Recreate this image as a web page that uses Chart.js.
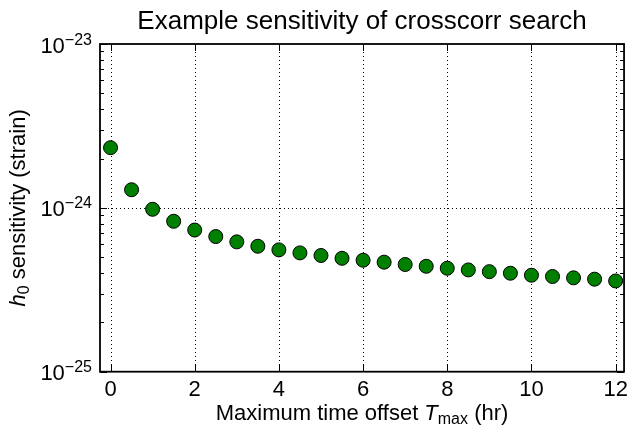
<!DOCTYPE html>
<html>
<head>
<meta charset="utf-8">
<script src="https://cdn.jsdelivr.net/npm/chart.js@4/dist/chart.umd.min.js"></script>
<style>
html,body{margin:0;padding:0;background:#fff;}
canvas{display:block;}
</style>
</head>
<body>
<canvas id="c" width="633" height="426"></canvas>
<script>
// ---- data ----
const tmaxHours = [0, 0.5, 1, 1.5, 2, 2.5, 3, 3.5, 4, 4.5, 5, 5.5, 6, 6.5, 7, 7.5, 8, 8.5, 9, 9.5, 10, 10.5, 11, 11.5, 12];
const h0Sensitivity = [2.33e-24, 1.29e-24, 0.98e-24, 0.828e-24, 0.732e-24, 0.668e-24, 0.620e-24, 0.583e-24, 0.554e-24, 0.531e-24, 0.512e-24, 0.492e-24, 0.479e-24, 0.466e-24, 0.451e-24, 0.440e-24, 0.428e-24, 0.418e-24, 0.408e-24, 0.399e-24, 0.388e-24, 0.381e-24, 0.374e-24, 0.367e-24, 0.358e-24];
const xTickValues = [0, 2, 4, 6, 8, 10, 12];
const yMajorExponents = [-25, -24, -23];
const yMinorMultipliers = [2, 3, 4, 5, 6, 7, 8, 9];
const titleText = 'Example sensitivity of crosscorr search';

const FONT = '"Liberation Sans", Arial, Helvetica, sans-serif';

const yTickValues = [];
yMajorExponents.forEach(e => yTickValues.push(Math.pow(10, e)));
yMajorExponents.slice(0, -1).forEach(e => yMinorMultipliers.forEach(m => yTickValues.push(m * Math.pow(10, e))));

function drawRich(ctx, parts, cx, baseY) {
  let total = 0;
  parts.forEach(p => { ctx.font = (p.style || '') + ' ' + p.size + 'px ' + FONT; p.w = ctx.measureText(p.text).width; total += p.w; });
  let x = cx - total / 2;
  ctx.textAlign = 'left';
  ctx.textBaseline = 'alphabetic';
  parts.forEach(p => {
    ctx.font = (p.style || '') + ' ' + p.size + 'px ' + FONT;
    ctx.fillText(p.text, x, baseY + (p.dy || 0));
    x += p.w;
  });
}

const decor = {
  id: 'decor',
  beforeDatasetsDraw(chart) {
    const ctx = chart.ctx, a = chart.chartArea;
    const xs = chart.scales.x, ys = chart.scales.y;
    ctx.save();
    ctx.strokeStyle = '#000';
    ctx.lineWidth = 1;
    ctx.setLineDash([1, 3]);
    xTickValues.forEach(v => {
      const px = Math.round(xs.getPixelForValue(v)) + 0.5;
      ctx.beginPath(); ctx.moveTo(px, a.top); ctx.lineTo(px, a.bottom); ctx.stroke();
    });
    yMajorExponents.forEach(e => {
      const py = Math.round(ys.getPixelForValue(Math.pow(10, e))) + 0.5;
      if (py > a.top + 2 && py < a.bottom - 2) {
        ctx.beginPath(); ctx.moveTo(a.left, py); ctx.lineTo(a.right, py); ctx.stroke();
      }
    });
    ctx.restore();
  },
  afterDraw(chart) {
    const ctx = chart.ctx, a = chart.chartArea;
    const xs = chart.scales.x, ys = chart.scales.y;
    ctx.save();
    ctx.strokeStyle = '#000';
    ctx.fillStyle = '#000';
    ctx.setLineDash([]);
    ctx.lineWidth = 1.8;
    ctx.strokeRect(a.left, a.top, a.right - a.left, a.bottom - a.top);
    ctx.lineWidth = 1;
    xTickValues.forEach(v => {
      const px = Math.round(xs.getPixelForValue(v)) + 0.5;
      ctx.beginPath();
      ctx.moveTo(px, a.bottom); ctx.lineTo(px, a.bottom - 7);
      ctx.moveTo(px, a.top); ctx.lineTo(px, a.top + 7);
      ctx.stroke();
    });
    yTickValues.forEach(v => {
      const py = Math.round(ys.getPixelForValue(v)) + 0.5;
      const major = yMajorExponents.some(e => Math.abs(Math.pow(10, e) - v) < 1e-30);
      const len = major ? 7 : 4;
      ctx.beginPath();
      ctx.moveTo(a.left, py); ctx.lineTo(a.left + len, py);
      ctx.moveTo(a.right, py); ctx.lineTo(a.right - len, py);
      ctx.stroke();
    });
    yMajorExponents.forEach(e => {
      const py = ys.getPixelForValue(Math.pow(10, e));
      const sup = '\u2212' + String(Math.abs(e));
      ctx.font = '16px ' + FONT;
      const wSup = ctx.measureText(sup).width;
      ctx.font = '22px ' + FONT;
      const wBase = ctx.measureText('10').width;
      const right = a.left - 8;
      ctx.textAlign = 'left';
      ctx.textBaseline = 'alphabetic';
      ctx.fillText('10', right - wSup - wBase, py + 8.5);
      ctx.font = '16px ' + FONT;
      ctx.fillText(sup, right - wSup, py + 0.5);
    });
    const cx = (a.left + a.right) / 2;
    drawRich(ctx, [{text: titleText, size: 26}], cx, 29);
    drawRich(ctx, [
      {text: 'Maximum time offset ', size: 22},
      {text: 'T', size: 22, style: 'italic'},
      {text: 'max', size: 16, dy: 4},
      {text: ' (hr)', size: 22}
    ], cx, 420);
    ctx.translate(25, (a.top + a.bottom) / 2);
    ctx.rotate(-Math.PI / 2);
    drawRich(ctx, [
      {text: 'h', size: 22, style: 'italic'},
      {text: '0', size: 16, dy: 4},
      {text: ' sensitivity (strain)', size: 22}
    ], 0, 0);
    ctx.restore();
  }
};

new Chart(document.getElementById('c'), {
  type: 'scatter',
  data: {
    datasets: [{
      data: tmaxHours.map((x, i) => ({x: x, y: h0Sensitivity[i]})),
      backgroundColor: '#007f00',
      borderColor: '#000',
      borderWidth: 1,
      pointRadius: 7,
      pointHoverRadius: 7
    }]
  },
  options: {
    responsive: false,
    animation: false,
    devicePixelRatio: 1,
    layout: {padding: {top: 44, right: 3.7, left: 0, bottom: 0}},
    plugins: {legend: {display: false}, tooltip: {enabled: false}, title: {display: false}},
    scales: {
      x: {
        type: 'linear',
        min: -0.25,
        max: 12.2,
        afterBuildTicks: s => { s.ticks = xTickValues.map(v => ({value: v})); },
        afterFit: s => { s.height = 54.3; },
        grid: {display: false, drawTicks: false},
        border: {display: false},
        ticks: {
          color: '#000',
          font: {family: FONT, size: 22},
          padding: 5,
          autoSkip: false,
          maxRotation: 0
        }
      },
      y: {
        type: 'logarithmic',
        min: 1e-25,
        max: 1e-23,
        afterBuildTicks: s => { s.ticks = yTickValues.map(v => ({value: v})); },
        afterFit: s => { s.width = 100; },
        grid: {display: false, drawTicks: false},
        border: {display: false},
        ticks: {display: false}
      }
    }
  },
  plugins: [decor]
});
</script>
</body>
</html>
